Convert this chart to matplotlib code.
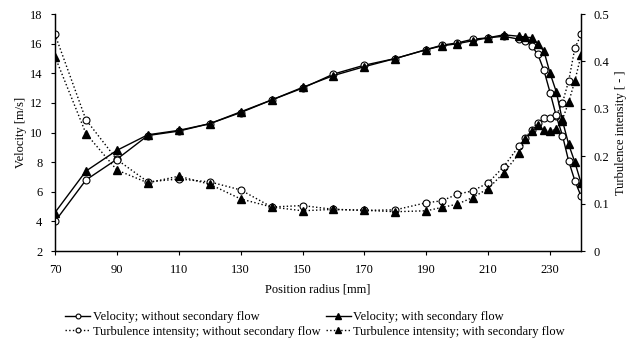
import numpy as np
from matplotlib import pyplot as plt
from matplotlib.ticker import FuncFormatter

plt.rcParams['font.family'] = ['Liberation Serif', 'DejaVu Serif']
plt.rcParams['font.size'] = 9

########## data ##########
radius = [70, 80, 90, 100, 110, 120, 130, 140, 150, 160, 170, 180, 190, 195, 200,
          205, 210, 215, 220, 222, 224, 226, 228, 230, 232, 234, 236, 238, 240]

vel_without = [4.0, 6.8, 8.2, 9.8, 10.1, 10.6, 11.35, 12.2, 13.0, 13.95, 14.55, 15.0,
               15.6, 15.9, 16.05, 16.3, 16.4, 16.5, 16.3, 16.2, 15.85, 15.3, 14.2,
               12.7, 11.1, 9.8, 8.07, 6.75, 5.7]
vel_with = [4.6, 7.4, 8.8, 9.85, 10.15, 10.6, 11.4, 12.2, 13.05, 13.85, 14.45, 15.0,
            15.6, 15.85, 16.0, 16.2, 16.4, 16.6, 16.5, 16.45, 16.4, 16.0, 15.5,
            14.0, 12.75, 10.8, 9.2, 8.0, 6.6]

turb_without = [0.457, 0.277, 0.193, 0.146, 0.152, 0.146, 0.129, 0.093, 0.096, 0.088,
                0.086, 0.087, 0.102, 0.106, 0.120, 0.127, 0.144, 0.178, 0.222, 0.239,
                0.255, 0.271, 0.281, 0.281, 0.287, 0.313, 0.359, 0.428, 0.457]
turb_with = [0.410, 0.248, 0.171, 0.144, 0.158, 0.141, 0.110, 0.093, 0.085, 0.088,
             0.086, 0.083, 0.085, 0.092, 0.099, 0.113, 0.132, 0.165, 0.206, 0.237,
             0.253, 0.267, 0.255, 0.253, 0.257, 0.278, 0.314, 0.359, 0.413]

labels = ["Velocity; without secondary flow",
          "Velocity; with secondary flow",
          "Turbulence intensity; without secondary flow",
          "Turbulence intensity; with secondary flow"]

fig = plt.figure(figsize=(6.30, 3.43), dpi=100)
ax = fig.add_axes([0.0873, 0.268, 0.835, 0.691])
ax2 = ax.twinx()

circ = dict(marker='o', markersize=5, markerfacecolor='white', markeredgecolor='black',
            markeredgewidth=0.8, color='black')
tri = dict(marker='^', markersize=5.5, markerfacecolor='black', markeredgecolor='black',
           color='black')

l1, = ax.plot(radius, vel_without, '-', linewidth=1.0, zorder=3, **circ)
l2, = ax.plot(radius, vel_with, '-', linewidth=1.0, zorder=3, **tri)
l3, = ax2.plot(radius, turb_without, ':', linewidth=1.0, **circ)
l4, = ax2.plot(radius, turb_with, ':', linewidth=1.0, **tri)

ax.set_xlim(70, 240)
ax.set_ylim(2, 18)
ax2.set_ylim(0, 0.5)
ax.set_xticks(np.arange(70, 231, 20))
ax.set_yticks(np.arange(2, 19, 2))
ax2.set_yticks(np.arange(0, 0.51, 0.1))
ax2.yaxis.set_major_formatter(FuncFormatter(lambda v, p: "0" if v == 0 else "%g" % round(v, 1)))

for a in (ax, ax2):
    a.spines['top'].set_visible(False)
    a.tick_params(direction='out', length=3, width=0.8, pad=6)
    for s in a.spines.values():
        s.set_linewidth(0.9)

ax.set_xlabel("Position radius [mm]", labelpad=6)
ax.set_ylabel("Velocity [m/s]", labelpad=2)
ax2.set_ylabel("Turbulence intensity [ - ]", labelpad=4)

# legend filled row by row
fig.legend([l1, l3, l2, l4], [labels[0], labels[2], labels[1], labels[3]],
           loc='lower center', bbox_to_anchor=(0.5, -0.017),
           ncol=2, frameon=False, handlelength=2.0, handletextpad=0.2,
           columnspacing=0.4, labelspacing=0.2, markerscale=0.7)

plt.savefig("out.png", dpi=100)
